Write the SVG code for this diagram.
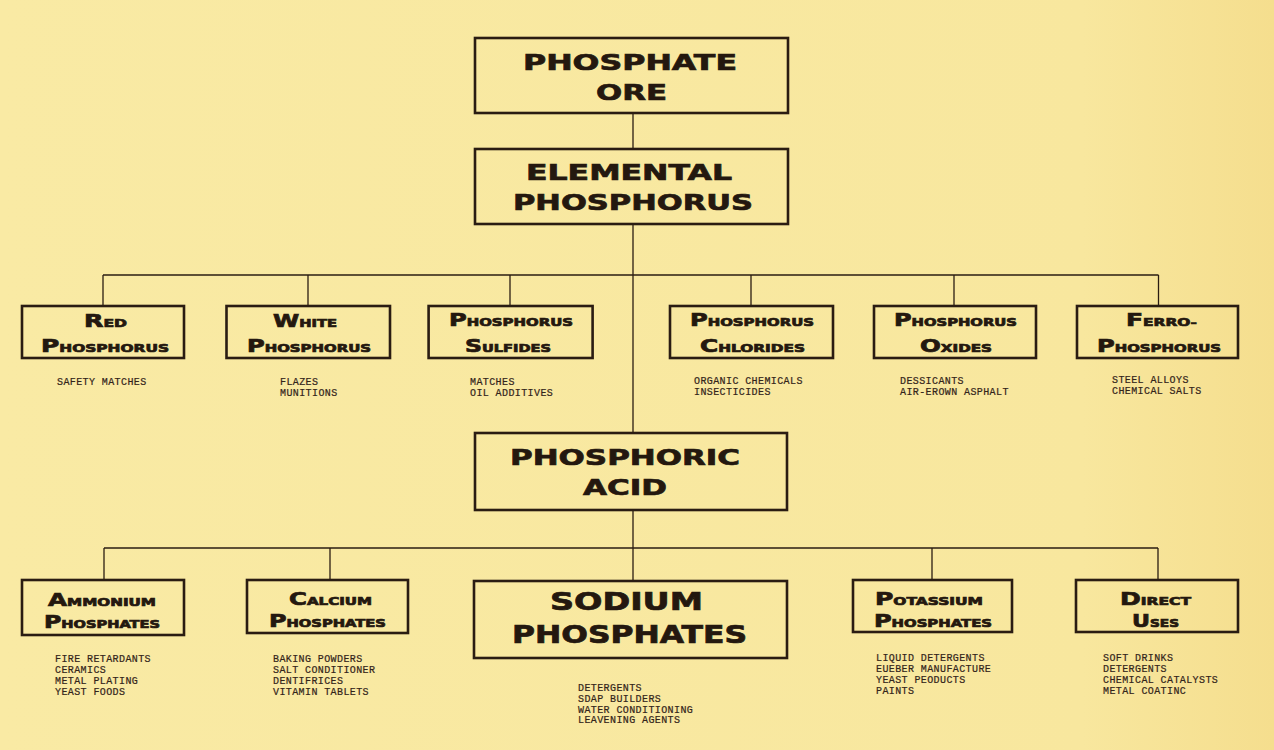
<svg xmlns="http://www.w3.org/2000/svg" width="1274" height="750" viewBox="0 0 1274 750">
<defs>
<linearGradient id="bg" x1="0" y1="0" x2="1" y2="0">
<stop offset="0" stop-color="#f9eaa4"/>
<stop offset="0.85" stop-color="#f8e79e"/>
<stop offset="1" stop-color="#f5de8e"/>
</linearGradient>
<style>
.box{fill:none;stroke:#2a1c12;stroke-width:2.6}
.ln{fill:none;stroke:#2a1c12;stroke-width:1.3}
.t{font-family:"DejaVu Sans",sans-serif;font-weight:bold;fill:#24180f;stroke:#24180f;stroke-width:0.7;paint-order:stroke}
.T{font-size:22px}
.T2{font-size:24px}
.b{font-size:17px}
.s{font-size:10.5px}
.m{font-family:"Liberation Mono",monospace;font-size:10px;letter-spacing:0.4px;fill:#33241a;stroke:#33241a;stroke-width:0.2}
</style>
</defs>
<rect x="0" y="0" width="1274" height="750" fill="url(#bg)"/>

<g id="connectors">
<line class="ln" x1="633" y1="113" x2="633" y2="149"/>
<line class="ln" x1="633" y1="224" x2="633" y2="433"/>
<line class="ln" x1="103" y1="275" x2="1158.5" y2="275"/>
<line class="ln" x1="103" y1="275" x2="103" y2="306"/>
<line class="ln" x1="308" y1="275" x2="308" y2="306"/>
<line class="ln" x1="510" y1="275" x2="510" y2="306"/>
<line class="ln" x1="751" y1="275" x2="751" y2="306"/>
<line class="ln" x1="954" y1="275" x2="954" y2="306"/>
<line class="ln" x1="1158.5" y1="275" x2="1158.5" y2="306"/>
<line class="ln" x1="633" y1="510" x2="633" y2="581"/>
<line class="ln" x1="104" y1="548" x2="1158" y2="548"/>
<line class="ln" x1="104" y1="548" x2="104" y2="580"/>
<line class="ln" x1="330" y1="548" x2="330" y2="580"/>
<line class="ln" x1="932" y1="548" x2="932" y2="580"/>
<line class="ln" x1="1158" y1="548" x2="1158" y2="580"/>
</g>

<g id="phosphate-ore">
<rect class="box" x="475" y="38" width="313" height="75"/>
<text class="t T" x="523" y="70" textLength="214" lengthAdjust="spacingAndGlyphs">PHOSPHATE</text>
<text class="t T" x="596" y="100" textLength="71" lengthAdjust="spacingAndGlyphs">ORE</text>
</g>

<g id="elemental-phosphorus">
<rect class="box" x="475" y="149" width="313" height="75"/>
<text class="t T" x="526" y="180" textLength="206" lengthAdjust="spacingAndGlyphs">ELEMENTAL</text>
<text class="t T" x="513" y="210" textLength="240" lengthAdjust="spacingAndGlyphs">PHOSPHORUS</text>
</g>

<g id="red-phosphorus">
<rect class="box" x="22" y="306" width="162" height="52"/>
<text class="t" x="84" y="327" textLength="43" lengthAdjust="spacingAndGlyphs"><tspan class="b">R</tspan><tspan class="s">ED</tspan></text>
<text class="t" x="41" y="352" textLength="128" lengthAdjust="spacingAndGlyphs"><tspan class="b">P</tspan><tspan class="s">HOSPHORUS</tspan></text>
<text class="m" x="57" y="385">SAFETY MATCHES</text>
</g>

<g id="white-phosphorus">
<rect class="box" x="226.5" y="306" width="163.5" height="52"/>
<text class="t" x="273" y="327" textLength="64" lengthAdjust="spacingAndGlyphs"><tspan class="b">W</tspan><tspan class="s">HITE</tspan></text>
<text class="t" x="247" y="352" textLength="124" lengthAdjust="spacingAndGlyphs"><tspan class="b">P</tspan><tspan class="s">HOSPHORUS</tspan></text>
<text class="m" x="280" y="385">FLAZES</text>
<text class="m" x="280" y="396">MUNITIONS</text>
</g>

<g id="phosphorus-sulfides">
<rect class="box" x="428.6" y="306" width="164" height="52"/>
<text class="t" x="449" y="326" textLength="124" lengthAdjust="spacingAndGlyphs"><tspan class="b">P</tspan><tspan class="s">HOSPHORUS</tspan></text>
<text class="t" x="465" y="352" textLength="86" lengthAdjust="spacingAndGlyphs"><tspan class="b">S</tspan><tspan class="s">ULFIDES</tspan></text>
<text class="m" x="470" y="385">MATCHES</text>
<text class="m" x="470" y="396">OIL ADDITIVES</text>
</g>

<g id="phosphorus-chlorides">
<rect class="box" x="670" y="306" width="163" height="52"/>
<text class="t" x="690" y="326" textLength="124" lengthAdjust="spacingAndGlyphs"><tspan class="b">P</tspan><tspan class="s">HOSPHORUS</tspan></text>
<text class="t" x="700" y="352" textLength="105" lengthAdjust="spacingAndGlyphs"><tspan class="b">C</tspan><tspan class="s">HLORIDES</tspan></text>
<text class="m" x="694" y="384">ORGANIC CHEMICALS</text>
<text class="m" x="694" y="395">INSECTICIDES</text>
</g>

<g id="phosphorus-oxides">
<rect class="box" x="874" y="306" width="162" height="52"/>
<text class="t" x="894" y="326" textLength="123" lengthAdjust="spacingAndGlyphs"><tspan class="b">P</tspan><tspan class="s">HOSPHORUS</tspan></text>
<text class="t" x="920" y="352" textLength="72" lengthAdjust="spacingAndGlyphs"><tspan class="b">O</tspan><tspan class="s">XIDES</tspan></text>
<text class="m" x="900" y="384">DESSICANTS</text>
<text class="m" x="900" y="395">AIR-EROWN ASPHALT</text>
</g>

<g id="ferro-phosphorus">
<rect class="box" x="1077" y="306" width="161" height="52"/>
<text class="t" x="1126" y="326" textLength="71" lengthAdjust="spacingAndGlyphs"><tspan class="b">F</tspan><tspan class="s">ERRO-</tspan></text>
<text class="t" x="1097" y="352" textLength="124" lengthAdjust="spacingAndGlyphs"><tspan class="b">P</tspan><tspan class="s">HOSPHORUS</tspan></text>
<text class="m" x="1112" y="383">STEEL ALLOYS</text>
<text class="m" x="1112" y="394">CHEMICAL SALTS</text>
</g>

<g id="phosphoric-acid">
<rect class="box" x="475" y="433" width="312" height="77"/>
<text class="t T" x="510" y="465" textLength="230" lengthAdjust="spacingAndGlyphs">PHOSPHORIC</text>
<text class="t T" x="583" y="495" textLength="84" lengthAdjust="spacingAndGlyphs">ACID</text>
</g>

<g id="ammonium-phosphates">
<rect class="box" x="22" y="580" width="162" height="55"/>
<text class="t" x="48" y="606" textLength="108" lengthAdjust="spacingAndGlyphs"><tspan class="b">A</tspan><tspan class="s">MMONIUM</tspan></text>
<text class="t" x="44" y="628" textLength="116" lengthAdjust="spacingAndGlyphs"><tspan class="b">P</tspan><tspan class="s">HOSPHATES</tspan></text>
<text class="m" x="55" y="662">FIRE RETARDANTS</text>
<text class="m" x="55" y="673">CERAMICS</text>
<text class="m" x="55" y="684">METAL PLATING</text>
<text class="m" x="55" y="695">YEAST FOODS</text>
</g>

<g id="calcium-phosphates">
<rect class="box" x="247" y="580" width="161" height="53"/>
<text class="t" x="289" y="605" textLength="83" lengthAdjust="spacingAndGlyphs"><tspan class="b">C</tspan><tspan class="s">ALCIUM</tspan></text>
<text class="t" x="269" y="627" textLength="117" lengthAdjust="spacingAndGlyphs"><tspan class="b">P</tspan><tspan class="s">HOSPHATES</tspan></text>
<text class="m" x="273" y="662">BAKING POWDERS</text>
<text class="m" x="273" y="673">SALT CONDITIONER</text>
<text class="m" x="273" y="684">DENTIFRICES</text>
<text class="m" x="273" y="695">VITAMIN TABLETS</text>
</g>

<g id="sodium-phosphates">
<rect class="box" x="474" y="581" width="313" height="77"/>
<text class="t T2" x="550" y="610" textLength="153" lengthAdjust="spacingAndGlyphs">SODIUM</text>
<text class="t T2" x="512" y="643" textLength="235" lengthAdjust="spacingAndGlyphs">PHOSPHATES</text>
<text class="m" x="578" y="691">DETERGENTS</text>
<text class="m" x="578" y="702">SDAP BUILDERS</text>
<text class="m" x="578" y="712.5">WATER CONDITIONING</text>
<text class="m" x="578" y="723">LEAVENING AGENTS</text>
</g>

<g id="potassium-phosphates">
<rect class="box" x="853" y="580" width="159" height="52"/>
<text class="t" x="875" y="605" textLength="108" lengthAdjust="spacingAndGlyphs"><tspan class="b">P</tspan><tspan class="s">OTASSIUM</tspan></text>
<text class="t" x="874" y="627" textLength="118" lengthAdjust="spacingAndGlyphs"><tspan class="b">P</tspan><tspan class="s">HOSPHATES</tspan></text>
<text class="m" x="876" y="661">LIQUID DETERGENTS</text>
<text class="m" x="876" y="672">EUEBER MANUFACTURE</text>
<text class="m" x="876" y="683">YEAST PEODUCTS</text>
<text class="m" x="876" y="694">PAINTS</text>
</g>

<g id="direct-uses">
<rect class="box" x="1076" y="580" width="162" height="52"/>
<text class="t" x="1120" y="605" textLength="71" lengthAdjust="spacingAndGlyphs"><tspan class="b">D</tspan><tspan class="s">IRECT</tspan></text>
<text class="t" x="1132" y="627" textLength="47" lengthAdjust="spacingAndGlyphs"><tspan class="b">U</tspan><tspan class="s">SES</tspan></text>
<text class="m" x="1103" y="661">SOFT DRINKS</text>
<text class="m" x="1103" y="672">DETERGENTS</text>
<text class="m" x="1103" y="683">CHEMICAL CATALYSTS</text>
<text class="m" x="1103" y="694">METAL COATINC</text>
</g>
</svg>
